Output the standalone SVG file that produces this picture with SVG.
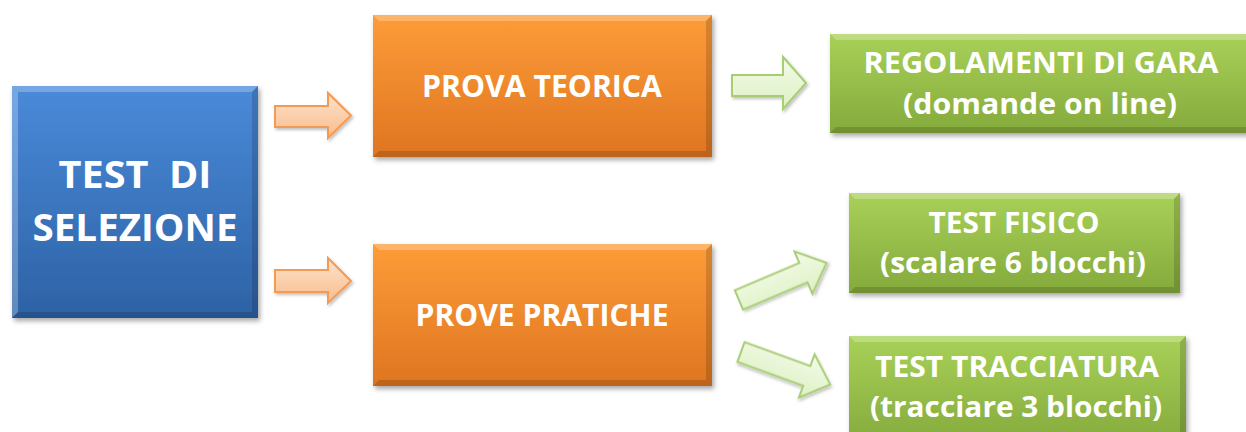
<svg xmlns="http://www.w3.org/2000/svg" width="1246" height="432" viewBox="0 0 1246 432">
<defs>
<linearGradient id="gBlue" x1="0" y1="0" x2="0" y2="1"><stop offset="0" stop-color="#4a8ad9"/><stop offset="1" stop-color="#2d62a5"/></linearGradient>
<linearGradient id="gOrange" x1="0" y1="0" x2="0" y2="1"><stop offset="0" stop-color="#fd9c38"/><stop offset="1" stop-color="#df7521"/></linearGradient>
<linearGradient id="gGreen" x1="0" y1="0" x2="0" y2="1"><stop offset="0" stop-color="#a8d158"/><stop offset="1" stop-color="#84aa3c"/></linearGradient>
<linearGradient id="gArrO" x1="0" y1="0" x2="0" y2="1"><stop offset="0" stop-color="#fde3cc"/><stop offset="1" stop-color="#f9bc8d"/></linearGradient>
<linearGradient id="gArrG" x1="0" y1="0" x2="0" y2="1"><stop offset="0" stop-color="#f3fbe8"/><stop offset="1" stop-color="#ddf0c4"/></linearGradient>
<filter id="sh" x="-10%" y="-10%" width="125%" height="130%"><feDropShadow dx="2" dy="3" stdDeviation="2.5" flood-color="#000" flood-opacity="0.35"/></filter>
<filter id="ash" x="-10%" y="-20%" width="130%" height="150%"><feDropShadow dx="1.5" dy="2" stdDeviation="1.5" flood-color="#000" flood-opacity="0.25"/></filter>
</defs>
<style>
.t{font-family:"Open Sans","Liberation Sans",sans-serif;font-weight:bold;fill:#fff;text-anchor:middle;}
.hl{fill:#fff;opacity:0.25;}
.dk{fill:#000;opacity:0.15;}
.ao{fill:url(#gArrO);stroke:#f49a52;stroke-width:2;stroke-linejoin:miter;filter:url(#ash);}
.ag{fill:url(#gArrG);stroke:#a9cd74;stroke-width:2;stroke-linejoin:miter;filter:url(#ash);}
</style>
<rect width="1246" height="432" fill="#fff"/>

<g id="connectors">
<polygon class="ao" points="275,106 328,106 328,93 351,115.5 328,138 328,127 275,127"/>
<polygon class="ao" points="275,270 328,270 328,258 351,281 328,303 328,292 275,292"/>
<polygon class="ag" points="732,75 783,75 783,57 806,83 783,109 783,96 732,96"/>
<polygon class="ag" transform="translate(739,300) rotate(-23)" points="0,-10.5 70,-10.5 70,-23 95,0 70,23 70,10.5 0,10.5"/>
<polygon class="ag" transform="translate(741,352) rotate(20)" points="0,-10.5 70,-10.5 70,-23 95,0 70,23 70,10.5 0,10.5"/>
</g>

<g id="node-test-selezione">
<g filter="url(#sh)"><rect x="12" y="86" width="246" height="232" fill="url(#gBlue)"/></g>
<polygon class="hl" points="12,86 258,86 252,92 18,92"/>
<polygon class="hl" points="12,86 18,92 18,312 12,318" opacity="0.12"/>
<polygon class="dk" points="258,86 258,318 252,312 252,92"/>
<polygon class="dk" points="12,318 258,318 252,312 18,312"/>
<text class="t" x="135" y="188" font-size="37" textLength="153" lengthAdjust="spacingAndGlyphs" xml:space="preserve">TEST  DI</text>
<text class="t" x="135" y="241" font-size="37" textLength="205" lengthAdjust="spacingAndGlyphs">SELEZIONE</text>
</g>

<g id="node-prova-teorica">
<g filter="url(#sh)"><rect x="373" y="15" width="339" height="142" fill="url(#gOrange)"/></g>
<polygon class="hl" points="373,15 712,15 706,21 379,21"/>
<polygon class="dk" points="712,15 712,157 706,151 706,21"/>
<polygon class="dk" points="373,157 712,157 706,151 379,151"/>
<text class="t" x="542" y="97" font-size="30" textLength="240" lengthAdjust="spacingAndGlyphs">PROVA TEORICA</text>
</g>

<g id="node-prove-pratiche">
<g filter="url(#sh)"><rect x="373" y="244" width="339" height="142" fill="url(#gOrange)"/></g>
<polygon class="hl" points="373,244 712,244 706,250 379,250"/>
<polygon class="dk" points="712,244 712,386 706,380 706,250"/>
<polygon class="dk" points="373,386 712,386 706,380 379,380"/>
<text class="t" x="542" y="326" font-size="30" textLength="253" lengthAdjust="spacingAndGlyphs">PROVE PRATICHE</text>
</g>

<g id="node-regolamenti">
<g filter="url(#sh)"><rect x="830" y="34" width="430" height="99" fill="url(#gGreen)"/></g>
<polygon class="hl" points="830,34 1260,34 1254,40 836,40"/>
<polygon class="dk" points="830,133 1260,133 1254,127 836,127"/>
<text class="t" x="1041" y="73" font-size="29" textLength="355" lengthAdjust="spacingAndGlyphs">REGOLAMENTI DI GARA</text>
<text class="t" x="1040" y="114" font-size="29" textLength="274" lengthAdjust="spacingAndGlyphs">(domande on line)</text>
</g>

<g id="node-test-fisico">
<g filter="url(#sh)"><rect x="849" y="193" width="331" height="100" fill="url(#gGreen)"/></g>
<polygon class="hl" points="849,193 1180,193 1174,199 855,199"/>
<polygon class="dk" points="1180,193 1180,293 1174,287 1174,199"/>
<polygon class="dk" points="849,293 1180,293 1174,287 855,287"/>
<text class="t" x="1014" y="233" font-size="29" textLength="171" lengthAdjust="spacingAndGlyphs">TEST FISICO</text>
<text class="t" x="1013" y="273" font-size="29" textLength="266" lengthAdjust="spacingAndGlyphs">(scalare 6 blocchi)</text>
</g>

<g id="node-test-tracciatura">
<g filter="url(#sh)"><rect x="849" y="336" width="337" height="110" fill="url(#gGreen)"/></g>
<polygon class="hl" points="849,336 1186,336 1180,342 855,342"/>
<polygon class="dk" points="1186,336 1186,446 1180,440 1180,342"/>
<text class="t" x="1017" y="377" font-size="29" textLength="284" lengthAdjust="spacingAndGlyphs">TEST TRACCIATURA</text>
<text class="t" x="1016" y="417" font-size="29" textLength="292" lengthAdjust="spacingAndGlyphs">(tracciare 3 blocchi)</text>
</g>
</svg>
